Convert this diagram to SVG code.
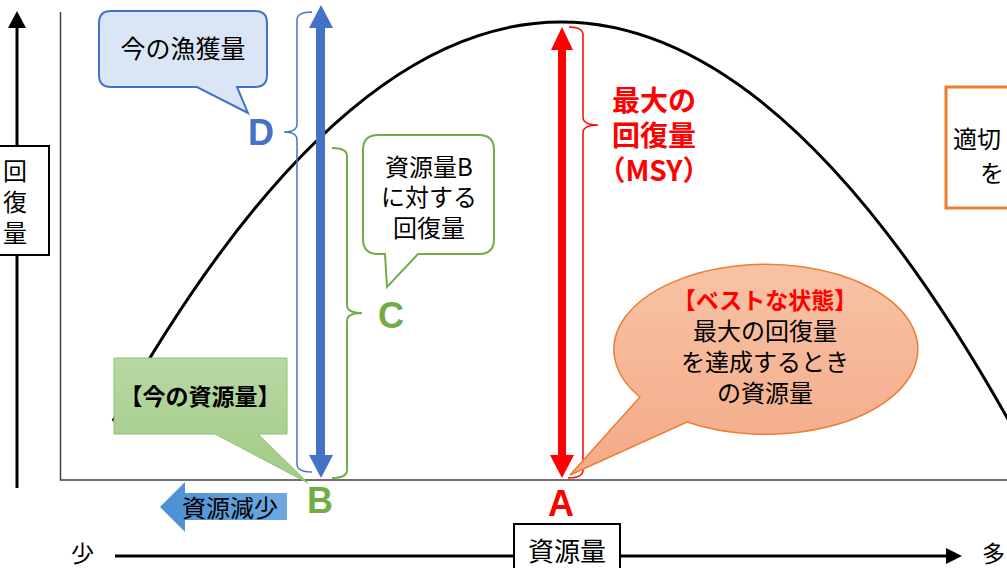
<svg xmlns="http://www.w3.org/2000/svg" width="1007" height="568" viewBox="0 0 1007 568">
<style>
.jp{font-family:"Noto Sans CJK JP","Noto Sans",sans-serif;fill:#000}
.big{font-family:"Liberation Sans",Arial,sans-serif;font-weight:bold;font-size:36px;text-anchor:middle}
.mid{text-anchor:middle}
.red{fill:#ff0000;font-weight:bold}
</style>
<defs>
<linearGradient id="gGreen" x1="0" y1="0" x2="0" y2="1"><stop offset="0" stop-color="#b8d8a3"/><stop offset="1" stop-color="#a2cb87"/></linearGradient>
<linearGradient id="gOrange" x1="0" y1="0" x2="0" y2="1"><stop offset="0" stop-color="#f7c3a5"/><stop offset="1" stop-color="#f4aa88"/></linearGradient>
<linearGradient id="gBlue" x1="0" y1="0" x2="1" y2="0"><stop offset="0" stop-color="#4a8fd3"/><stop offset="1" stop-color="#6fa8e0"/></linearGradient>
</defs>
<rect width="1007" height="568" fill="#ffffff"/>

<g id="axes">
<line x1="17" y1="488" x2="17" y2="26" stroke="#000" stroke-width="3"/>
<polygon points="17,11 8,28 26,28" fill="#000"/>
<line x1="115" y1="556" x2="948" y2="556" stroke="#000" stroke-width="3"/>
<polygon points="962,556 946,548 946,564" fill="#000"/>
<text class="jp" x="71" y="562" font-size="23">少</text>
<text class="jp" x="982" y="562" font-size="23">多</text>
</g>

<g id="plot-frame">
<polyline points="60.5,12 60.5,480 1007,480" fill="none" stroke="#404040" stroke-width="1.5"/>
</g>

<g id="curve">
<path d="M113,421 Q561,-377 1009,421" fill="none" stroke="#000" stroke-width="3"/>
</g>

<g id="connectors">
<path id="brace-D" d="M312,12 Q297,12 297,20 L297,124 Q297,132 284,132 Q297,132 297,140 L297,464 Q297,472 312,472" fill="none" stroke="#4472c4" stroke-width="1.5"/>
<path id="brace-C" d="M332,148 Q347,148 347,156 L347,305 Q347,313 362,313 Q347,313 347,321 L347,470 Q347,478 332,478" fill="none" stroke="#70ad47" stroke-width="2"/>
<path id="brace-MSY" d="M569,27 Q583,27 583,35 L583,117 Q583,125 598,125 Q583,125 583,133 L583,470 Q583,478 568,478" fill="none" stroke="#ff0000" stroke-width="1.5"/>
<g id="arrow-blue" fill="#4472c4">
<rect x="316" y="27" width="9" height="429"/>
<polygon points="321,5 309,28 333,28"/>
<polygon points="321,478 309,455 333,455"/>
</g>
<g id="arrow-red" fill="#ff0000">
<rect x="558" y="49" width="8" height="407"/>
<polygon points="562,27 551,50 573,50"/>
<polygon points="562,478 550,455 574,455"/>
</g>
</g>

<g id="axis-label-y">
<rect x="-2" y="146" width="51" height="109" fill="#fff" stroke="#000" stroke-width="2"/>
<text class="jp mid" font-size="24"><tspan x="15" y="180">回</tspan><tspan x="15" y="211">復</tspan><tspan x="15" y="242">量</tspan></text>
</g>

<g id="axis-label-x">
<rect x="514" y="524" width="106" height="50" fill="#fff" stroke="#000" stroke-width="2"/>
<text class="jp mid" x="567" y="561" font-size="26">資源量</text>
</g>

<g id="callout-catch">
<path d="M111,11 H255 Q267,11 267,23 V75 Q267,87 255,87 H237 L248,113 L197,87 H111 Q99,87 99,75 V23 Q99,11 111,11 Z" fill="#dae6f5" stroke="#4472c4" stroke-width="2"/>
<text class="jp mid" x="183" y="58" font-size="25">今の漁獲量</text>
</g>

<g id="label-D"><text class="big" x="261" y="145" fill="#4472c4">D</text></g>

<g id="callout-recovery-B">
<path d="M378,135 H479 Q494,135 494,150 V239 Q494,254 479,254 H418 L387,287 L385,254 H378 Q363,254 363,239 V150 Q363,135 378,135 Z" fill="#fff" stroke="#70ad47" stroke-width="2"/>
<text class="jp mid" font-size="24"><tspan x="429" y="176">資源量B</tspan><tspan x="429" y="206">に対する</tspan><tspan x="429" y="237">回復量</tspan></text>
</g>

<g id="label-C"><text class="big" x="391" y="328" fill="#70ad47">C</text></g>

<g id="callout-current-stock">
<path d="M114,358 H287 V434 H258 L308,483 L215,434 H114 Z" fill="url(#gGreen)" stroke="#8cc26c" stroke-width="1"/>
<text class="jp mid" x="200" y="405" font-size="23" font-weight="bold">【今の資源量】</text>
</g>

<g id="label-B"><text class="big" x="320" y="513" fill="#70ad47">B</text></g>

<g id="arrow-decrease">
<polygon points="160,507 185,482 185,493 287,493 287,520 185,520 185,532" fill="url(#gBlue)"/>
<text class="jp mid" x="230" y="517" font-size="24">資源減少</text>
</g>

<g id="label-MSY">
<text class="jp mid red" font-size="28"><tspan x="654" y="111">最大の</tspan><tspan x="654" y="146">回復量</tspan><tspan x="654" y="181">（MSY）</tspan></text>
</g>

<g id="callout-best">
<path d="M640,397 L570,475 L687,422 A152,85 0 1 0 640,397 Z" fill="url(#gOrange)" stroke="#ed7d31" stroke-width="1.5"/>
<text class="jp mid" font-size="24"><tspan class="red" x="765" y="309" font-size="23">【ベストな状態】</tspan><tspan x="765" y="340">最大の回復量</tspan><tspan x="765" y="371">を達成するとき</tspan><tspan x="765" y="402">の資源量</tspan></text>
</g>

<g id="label-A"><text class="big" x="561" y="516" fill="#ff0000">A</text></g>

<g id="box-appropriate">
<rect x="946" y="87" width="80" height="121" fill="#fff" stroke="#ed7d31" stroke-width="3"/>
<text class="jp" font-size="24"><tspan x="953" y="148">適切</tspan><tspan x="980" y="182">を</tspan></text>
</g>
</svg>
